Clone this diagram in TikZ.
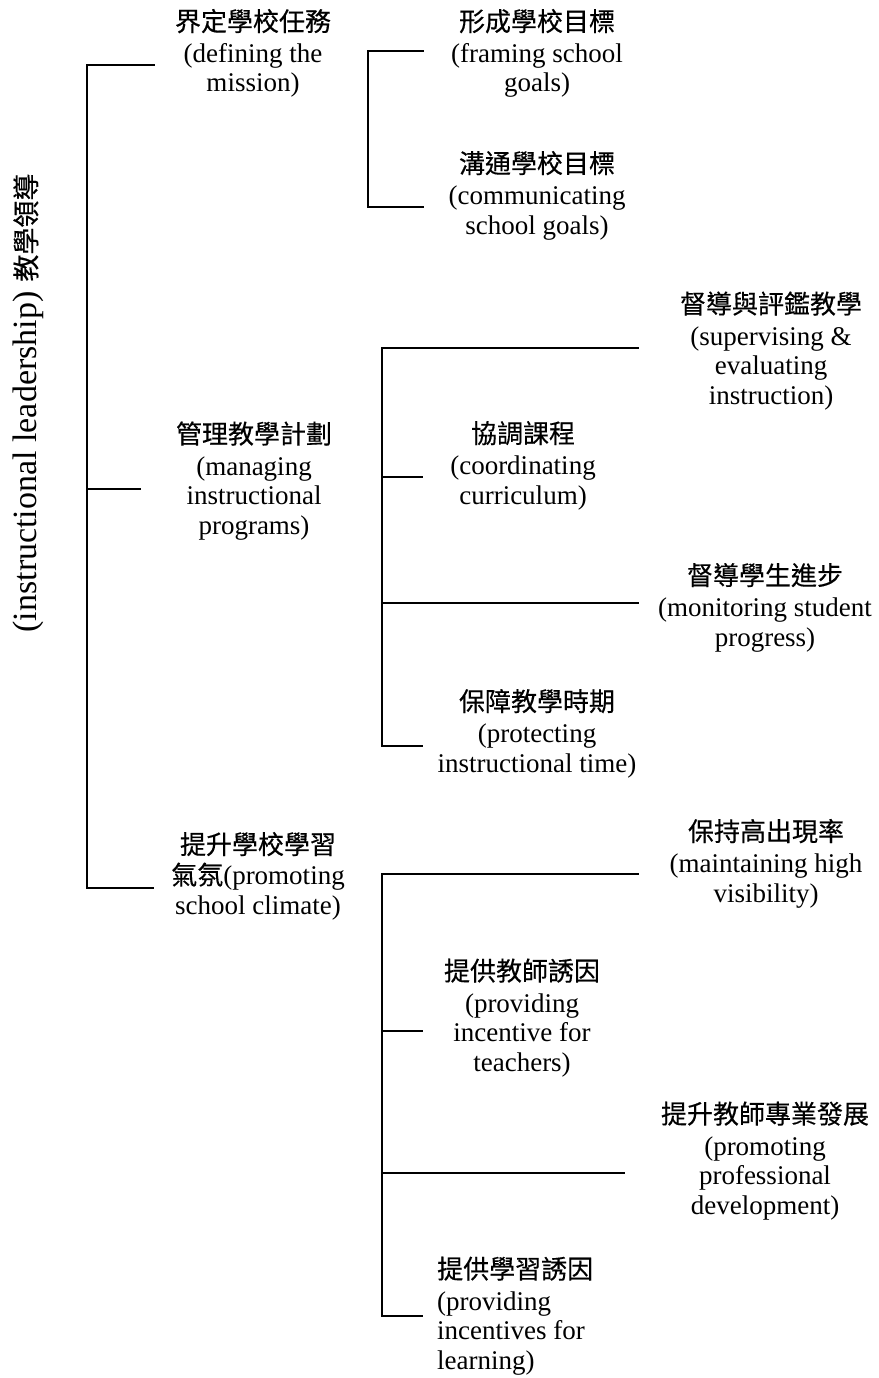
\documentclass[tikz,border=0pt]{standalone}
\usepackage{fontspec}
\setmainfont{Liberation Serif}
\newfontfamily\cjk[FakeBold=0.4]{Noto Sans CJK TC}
\newcommand{\zh}[1]{{\cjk\fontsize{26}{29.5}\selectfont #1}}
\begin{document}
\begin{tikzpicture}[x=1pt,y=-1pt,
  lbl/.style={align=center, inner sep=0pt, anchor=base, font=\fontsize{27}{29.5}\selectfont},
  link/.style={line width=1.6pt, line cap=rect}]
\useasboundingbox (0,0) rectangle (878,1378);

% vertical title (anchor=base gives the last line's baseline for multi-line nodes)
\node[rotate=90, inner sep=0pt] (title) at (28,403)
  {{\fontsize{34}{34}\selectfont (instructional leadership)}\hspace{10pt}{\cjk\fontsize{27}{27}\selectfont 教學領導}};

% first level
\node[lbl] (mission) at (253,92) {\zh{界定學校任務}\\[2pt](defining the\\mission)};
\node[lbl] (programs) at (254,534) {\zh{管理教學計劃}\\[2pt](managing\\instructional\\programs)};
\node[lbl] (climate) at (258,914) {\zh{提升學校學習}\\[1pt]\zh{氣氛}(promoting\\school climate)};

% second level: mission
\node[lbl] (framing) at (537,92) {\zh{形成學校目標}\\[2pt](framing school\\goals)};
\node[lbl] (communicating) at (537,234) {\zh{溝通學校目標}\\[2pt](communicating\\school goals)};

% second level: programs
\node[lbl] (supervising) at (771,404) {\zh{督導與評鑑教學}\\[2pt](supervising \&\\evaluating\\instruction)};
\node[lbl] (coordinating) at (523,504) {\zh{協調課程}\\[2pt](coordinating\\curriculum)};
\node[lbl] (monitoring) at (765,646) {\zh{督導學生進步}\\[2pt](monitoring student\\progress)};
\node[lbl] (protecting) at (537,772) {\zh{保障教學時期}\\[2pt](protecting\\instructional time)};

% second level: climate
\node[lbl] (visibility) at (766,902) {\zh{保持高出現率}\\[2pt](maintaining high\\visibility)};
\node[lbl] (incentive) at (522,1071) {\zh{提供教師誘因}\\[2pt](providing\\incentive for\\teachers)};
\node[lbl] (development) at (765,1214) {\zh{提升教師專業發展}\\[2pt](promoting\\professional\\development)};
\node[lbl, align=left, anchor=base west] (learning) at (437,1369) {\zh{提供學習誘因}\\[2pt](providing\\incentives for\\learning)};

% root bracket
\coordinate (r0) at (87,65);   \coordinate (r0e) at (154,65);
\coordinate (r1) at (87,489);  \coordinate (r1e) at (140,489);
\coordinate (r2) at (87,888);  \coordinate (r2e) at (153,888);
\draw[link] (r0e) -- (r0) -- (r2) -- (r2e);
\draw[link] (r1) -- (r1e);

% mission bracket
\coordinate (a0) at (368,51);  \coordinate (a0e) at (423,51);
\coordinate (a1) at (368,207); \coordinate (a1e) at (423,207);
\draw[link] (a0e) -- (a0) -- (a1) -- (a1e);

% programs bracket
\coordinate (b0) at (382,348); \coordinate (b0e) at (638,348);
\coordinate (b1) at (382,477); \coordinate (b1e) at (422,477);
\coordinate (b2) at (382,603); \coordinate (b2e) at (638,603);
\coordinate (b3) at (382,746); \coordinate (b3e) at (422,746);
\draw[link] (b0e) -- (b0) -- (b3) -- (b3e);
\draw[link] (b1) -- (b1e);
\draw[link] (b2) -- (b2e);

% climate bracket
\coordinate (c0) at (382,874);  \coordinate (c0e) at (638,874);
\coordinate (c1) at (382,1031); \coordinate (c1e) at (422,1031);
\coordinate (c2) at (382,1173); \coordinate (c2e) at (624,1173);
\coordinate (c3) at (382,1316); \coordinate (c3e) at (422,1316);
\draw[link] (c0e) -- (c0) -- (c3) -- (c3e);
\draw[link] (c1) -- (c1e);
\draw[link] (c2) -- (c2e);
\end{tikzpicture}
\end{document}
